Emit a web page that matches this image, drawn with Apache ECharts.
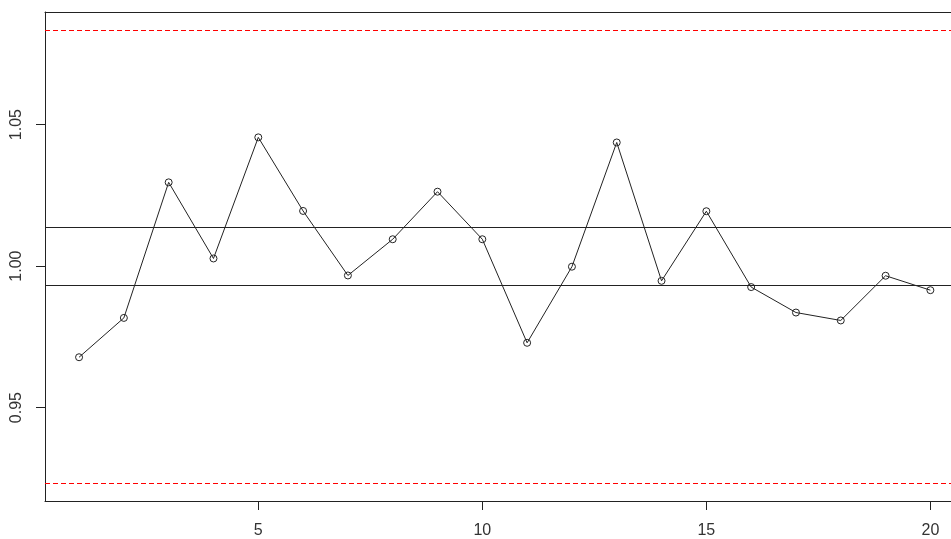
<!DOCTYPE html>
<html>
<head>
<meta charset="utf-8">
<script src="https://cdn.jsdelivr.net/npm/echarts@6/dist/echarts.min.js"></script>
<style>
html, body { margin: 0; padding: 0; background: #fff; }
#chart { width: 951px; height: 539px; }
</style>
</head>
<body>
<div id="chart"></div>
<script>
// sample index and value
var xs = [1, 2, 3, 4, 5, 6, 7, 8, 9, 10, 11, 12, 13, 14, 15, 16, 17, 18, 19, 20];
var ys = [0.9678, 0.9817, 1.0296, 1.0027, 1.0455, 1.0195, 0.9967, 1.0095, 1.0263, 1.0095,
          0.9729, 0.9998, 1.0437, 0.9948, 1.0194, 0.9926, 0.9836, 0.9808, 0.9966, 0.9915];
// control lines
var redLimits = [1.0834, 0.9234];
var blackLimits = [1.0137, 0.9931];
var xTicks = [5, 10, 15, 20];
var yTicks = [0.95, 1.00, 1.05];

var pts = [];
for (var i = 0; i < xs.length; i++) pts.push([xs[i], ys[i]]);

var marks = [];
redLimits.forEach(function (v) {
    marks.push({ yAxis: v, lineStyle: { color: '#ff0000', type: [5, 3], width: 1 } });
});
blackLimits.forEach(function (v) {
    marks.push({ yAxis: v, lineStyle: { color: '#222', type: 'solid', width: 1 } });
});

var font = 'Liberation Sans, Arial, sans-serif';
var myChart = echarts.init(document.getElementById('chart'));
var option = {
    animation: false,
    grid: { left: 45, top: 12, bottom: 38, right: 0 },
    xAxis: [{
        type: 'value',
        min: 0.24,
        max: 20.46,
        splitLine: { show: false },
        axisLine: { show: true, onZero: false, lineStyle: { color: '#222', width: 1 } },
        axisTick: { show: true, customValues: xTicks, length: 9, lineStyle: { color: '#222' } },
        axisLabel: {
            customValues: xTicks, margin: 22, color: '#333',
            fontFamily: font, fontSize: 16
        }
    }, {
        // top edge of the box
        type: 'value',
        position: 'top',
        min: 0.24,
        max: 20.46,
        splitLine: { show: false },
        axisLine: { show: true, onZero: false, lineStyle: { color: '#222', width: 1 } },
        axisTick: { show: false },
        axisLabel: { show: false }
    }],
    yAxis: {
        type: 'value',
        min: 0.917,
        max: 1.0898,
        splitLine: { show: false },
        axisLine: { show: true, onZero: false, lineStyle: { color: '#222', width: 1 } },
        axisTick: { show: true, customValues: yTicks, length: 9, lineStyle: { color: '#222' } },
        axisLabel: {
            customValues: yTicks, rotate: 90, margin: 20, color: '#333',
            fontFamily: font, fontSize: 16,
            formatter: function (v) { return v.toFixed(2); }
        }
    },
    series: [{
        type: 'line',
        data: pts,
        symbol: 'circle',
        symbolSize: 7,
        itemStyle: { color: 'rgba(0,0,0,0)', borderColor: '#222', borderWidth: 1 },
        lineStyle: { color: '#222', width: 1 },
        markLine: {
            silent: true,
            symbol: 'none',
            precision: 4,
            label: { show: false },
            data: marks
        }
    }]
};
myChart.setOption(option);
</script>
</body>
</html>
